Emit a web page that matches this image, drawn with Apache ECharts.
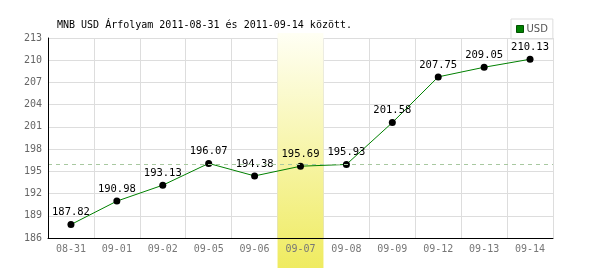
<!DOCTYPE html>
<html><head><meta charset="utf-8">
<script src="https://cdn.jsdelivr.net/npm/echarts@6/dist/echarts.min.js"></script>
<style>html,body{margin:0;padding:0;background:#fff}#c{width:600px;height:270px}</style>
</head><body><div id="c"></div>
<script>
const categories = ['08-31','09-01','09-02','09-05','09-06','09-07','09-08','09-09','09-12','09-13','09-14'];
const usdValues = [187.82,190.98,193.13,196.07,194.38,195.69,195.93,201.58,207.75,209.05,210.13];
const yTicks = {min:186, max:213, interval:3};
const refLine = [195.9];
const highlightCategory = '09-07';
const titleText = 'MNB USD Árfolyam 2011-08-31 és 2011-09-14 között.';
const seriesName = 'USD';

const mono = 'DejaVu Sans Mono';
const chart = echarts.init(document.getElementById('c'), null, {renderer:'canvas'});
chart.setOption({
  animation:false,
  title:{text:titleText,left:52,top:15,textStyle:{fontFamily:mono,fontSize:10,fontWeight:'normal',color:'#000'}},
  legend:{data:[{name:seriesName,icon:'rect',itemStyle:{color:'#008000',borderColor:'#005000',borderWidth:1}}],
    left:511,top:19,itemWidth:7,itemHeight:7,itemGap:4,
    padding:[5,5,5,5],borderColor:'#ddd',borderWidth:1,
    textStyle:{fontFamily:'DejaVu Sans',fontSize:10,color:'#555',padding:[0,0,0,-2]}},
  grid:{left:48,right:47,top:38,bottom:32},
  xAxis:[{type:'category',data:categories,boundaryGap:true,z:0,
    axisLine:{show:false},axisTick:{show:false},axisLabel:{show:false},
    splitLine:{show:true,interval:0,lineStyle:{color:'#ddd',width:1}}},
   {type:'category',data:categories,boundaryGap:true,position:'bottom',z:6,
    axisLine:{lineStyle:{color:'#000',width:1}},axisTick:{show:false},
    axisLabel:{fontFamily:mono,fontSize:10,color:'#777',margin:6,interval:0},
    splitLine:{show:false}}],
  yAxis:[{type:'value',min:yTicks.min,max:yTicks.max,interval:yTicks.interval,z:0,
    axisLine:{show:false},axisTick:{show:false},axisLabel:{show:false},
    splitLine:{lineStyle:{color:'#ddd',width:1}}},
   {type:'value',min:yTicks.min,max:yTicks.max,interval:yTicks.interval,position:'left',z:6,
    axisLine:{show:true,lineStyle:{color:'#000',width:1}},axisTick:{show:false},
    axisLabel:{fontFamily:mono,fontSize:10,color:'#666',margin:6},
    splitLine:{show:false}}],
  series:[{name:seriesName,type:'line',data:usdValues,z:3,xAxisIndex:0,yAxisIndex:0,
    itemStyle:{color:'#000'},
    lineStyle:{color:'#008000',width:1},
    symbol:'circle',symbolSize:7,
    emphasis:{disabled:true},
    label:{show:true,position:'top',distance:3,fontFamily:mono,fontSize:10.5,color:'#000',
      formatter:p=>p.value.toFixed(2)},
    markLine:{silent:true,symbol:'none',label:{show:false},
      lineStyle:{color:'#a8c8a0',type:[4,4],width:1},
      data:refLine.map(v=>({yAxis:v}))}
  }]
});

// highlight band for selected category
const idx = categories.indexOf(highlightCategory);
const c0 = chart.convertToPixel({xAxisIndex:0}, categories[0]);
const c1 = chart.convertToPixel({xAxisIndex:0}, categories[1]);
const bw = c1 - c0;
const cx = chart.convertToPixel({xAxisIndex:0}, categories[idx]);
chart.setOption({graphic:[{type:'rect',z:1,silent:true,
  shape:{x:cx-bw/2,y:33,width:bw,height:235},
  style:{fill:new echarts.graphic.LinearGradient(0,0,0,1,[{offset:0,color:'#fffff4'},{offset:1,color:'#efeb60'}])}}]});
</script></body></html>
